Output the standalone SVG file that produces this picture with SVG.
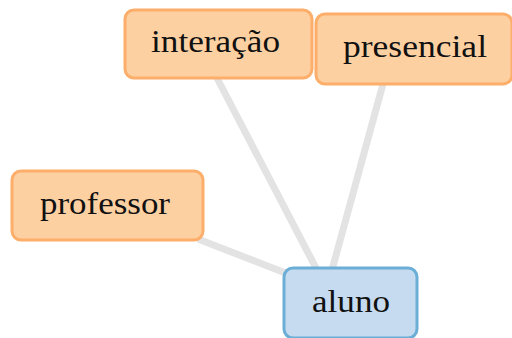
<svg xmlns="http://www.w3.org/2000/svg" width="512" height="338" viewBox="0 0 512 338">
  <style>
    .edge { stroke: #e3e3e3; stroke-width: 7; fill: none; }
    .term rect { fill: #fdd0a2; stroke: #fdae6b; stroke-width: 3; }
    .center rect { fill: #c6dbef; stroke: #6baed6; stroke-width: 3; }
    text { font-family: "Liberation Serif", "DejaVu Serif", serif; font-size: 32px; fill: #111; }
  </style>
  <rect width="512" height="338" fill="#fff"/>
  <g id="connectors">
    <line class="edge" x1="217" y1="78" x2="317" y2="270"/>
    <line class="edge" x1="383" y1="84" x2="332" y2="270"/>
    <line class="edge" x1="198" y1="239" x2="288" y2="274"/>
  </g>
  <g id="node-interacao" class="term">
    <rect x="125" y="10" width="187" height="68" rx="9"/>
    <text x="151" y="52" textLength="129" lengthAdjust="spacingAndGlyphs">interação</text>
  </g>
  <g id="node-presencial" class="term">
    <rect x="316" y="14" width="196" height="70" rx="9"/>
    <text x="343" y="57" textLength="144" lengthAdjust="spacingAndGlyphs">presencial</text>
  </g>
  <g id="node-professor" class="term">
    <rect x="12" y="171" width="191" height="69" rx="9"/>
    <text x="40" y="214" textLength="130" lengthAdjust="spacingAndGlyphs">professor</text>
  </g>
  <g id="node-aluno" class="center">
    <rect x="284" y="268" width="133" height="70" rx="9"/>
    <text x="312" y="312" textLength="78" lengthAdjust="spacingAndGlyphs">aluno</text>
  </g>
</svg>
